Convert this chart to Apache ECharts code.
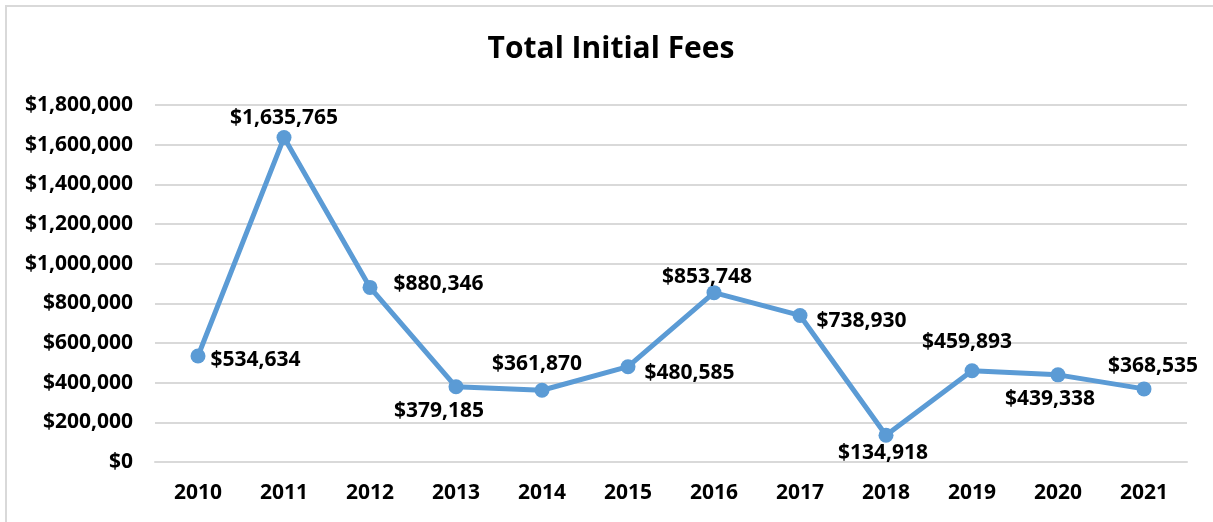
<!DOCTYPE html>
<html>
<head>
<meta charset="utf-8">
<script src="https://cdn.jsdelivr.net/npm/echarts@6/dist/echarts.min.js"></script>
<style>
body { margin: 0; background: #fff; }
#chart { position: absolute; left: 0; top: 0; width: 1213px; height: 522px; }
#frame {
  position: absolute; left: 5px; top: 5px; width: 1220px; height: 530px;
  border: 2px solid #d9d9d9; pointer-events: none;
}
</style>
</head>
<body>
<div id="chart"></div>
<div id="frame"></div>
<script>
// Total initial fees per year
const years = ['2010', '2011', '2012', '2013', '2014', '2015', '2016', '2017', '2018', '2019', '2020', '2021'];
const fees = [534634, 1635765, 880346, 379185, 361870, 480585, 853748, 738930, 134918, 459893, 439338, 368535];

// where each data label sits, as in the original
const labelPos = ['right', 'top', 'right', 'bottom', 'top', 'right', 'top', 'right', 'bottom', 'top', 'bottom', 'top'];
const labelShift = [[0, 4], [0, 3], [11, -3], [-17, 1], [-5, -3], [4, 6], [-7, 7], [4, 6], [-3, -5], [-5, -6], [-8, 1], [9, 0]];

const money = v => '$' + v.toLocaleString('en-US');
const font = '"Open Sans", sans-serif';

let option = {
  animation: false,
  title: {
    text: 'Total Initial Fees',
    left: 606,
    top: 29,
    textAlign: 'center',
    textStyle: { fontFamily: font, fontSize: 30, fontWeight: 'bold', color: '#000' }
  },
  grid: { left: 155, right: 26, top: 105, bottom: 60 },
  xAxis: {
    type: 'category',
    data: years,
    axisLine: { lineStyle: { color: '#d9d9d9', width: 2 } },
    axisTick: { show: false },
    axisLabel: { margin: 21, fontFamily: font, fontSize: 21, fontWeight: 'bold', color: '#000' }
  },
  yAxis: {
    type: 'value',
    min: 0,
    max: 1800000,
    interval: 200000,
    axisLine: { show: false },
    axisTick: { show: false },
    splitLine: { lineStyle: { color: '#d9d9d9', width: 2 } },
    axisLabel: { margin: 22, formatter: money, fontFamily: font, fontSize: 21, fontWeight: 'bold', color: '#000' }
  },
  series: [{
    type: 'line',
    data: fees.map((v, i) => ({
      value: v,
      label: { position: labelPos[i], offset: labelShift[i] }
    })),
    symbol: 'circle',
    symbolSize: 15,
    lineStyle: { color: '#5b9bd5', width: 5 },
    itemStyle: { color: '#5b9bd5' },
    label: {
      show: true,
      formatter: p => money(p.value),
      fontFamily: font,
      fontSize: 21,
      fontWeight: 'bold',
      color: '#000'
    }
  }]
};

let myChart = echarts.init(document.querySelector('#chart'));
myChart.setOption(option);
</script>
</body>
</html>
